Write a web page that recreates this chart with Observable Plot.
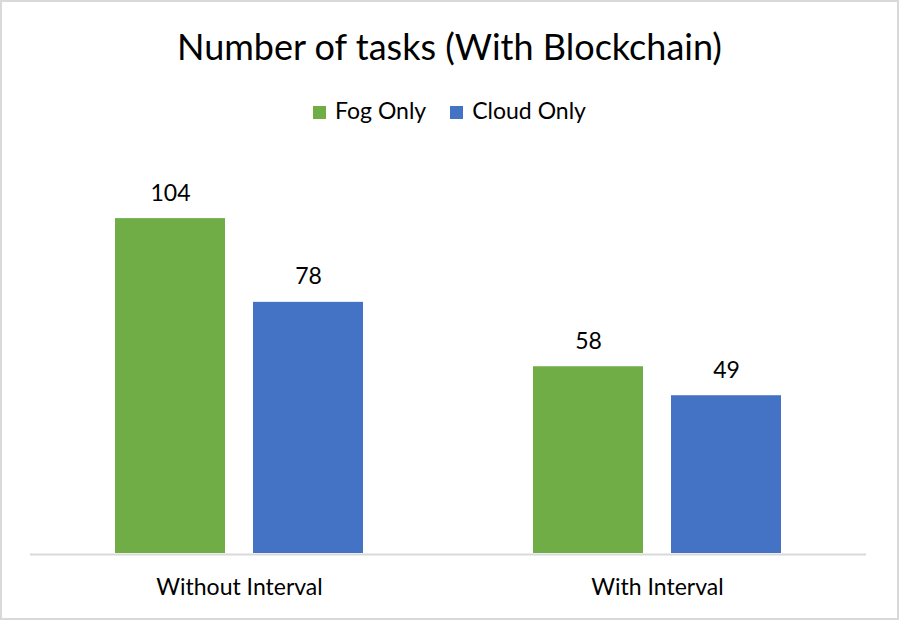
<!DOCTYPE html>
<html>
<head>
<meta charset="utf-8">
<script src="https://cdn.jsdelivr.net/npm/d3@7"></script>
<script src="https://cdn.jsdelivr.net/npm/@observablehq/plot@0.6"></script>
<style>
  html, body { margin: 0; padding: 0; background: #fff; }
  #frame { position: relative; width: 902px; height: 621px; overflow: hidden; font-family: Lato, "Open Sans", sans-serif; color: #000; }
  #border { position: absolute; left: 0; top: 0; width: 899px; height: 620px; box-sizing: border-box; border: 2.5px solid #d9d9d9; }
  #title { position: absolute; left: 0; top: 24.5px; width: 899px; text-align: center; font-size: 36px; line-height: 1.2; white-space: nowrap; }
  #legend { position: absolute; left: 0; top: 97px; width: 899px; display: flex; justify-content: center; font-size: 23px; line-height: 1.2; white-space: nowrap; }
  .item { display: inline-flex; align-items: baseline; margin: 0 12px; }
  .sw { display: inline-block; width: 13px; height: 13px; margin-right: 9px; }
  #chart { position: absolute; left: 0; top: 140px; }
</style>
</head>
<body>
<div id="frame">
  <div id="border"></div>
  <div id="title"></div>
  <div id="legend"></div>
  <div id="chart"></div>
</div>
<script>
const titleText = "Number of tasks (With Blockchain)";
const categories = ["Without Interval", "With Interval"];
const series = ["Fog Only", "Cloud Only"];
const fogValues = [104, 58];
const cloudValues = [78, 49];
const colors = ["#70AD47", "#4472C4"];

const data = categories.flatMap((c, i) => [
  {category: c, series: series[0], value: fogValues[i]},
  {category: c, series: series[1], value: cloudValues[i]}
]);

document.getElementById("title").textContent = titleText;
const legend = document.getElementById("legend");
series.forEach((s, i) => {
  const item = document.createElement("span");
  item.className = "item";
  const sw = document.createElement("span");
  sw.className = "sw";
  sw.style.background = colors[i];
  const lab = document.createElement("span");
  lab.textContent = s;
  item.appendChild(sw);
  item.appendChild(lab);
  legend.appendChild(item);
});

const chart = Plot.plot({
  width: 902,
  height: 480,
  marginLeft: 30,
  marginRight: 36,
  marginTop: 26.6,
  marginBottom: 67,
  style: {fontFamily: "Lato, 'Open Sans', sans-serif", fontSize: "23px", color: "#000", background: "transparent", overflow: "visible"},
  fx: {domain: categories, padding: 0, label: null},
  x: {domain: series, paddingInner: 0.2, paddingOuter: 0.604, axis: null},
  y: {domain: [0, 120], axis: null},
  color: {domain: series, range: colors},
  marks: [
    Plot.barY(data, {fx: "category", x: "series", y: "value", fill: "series"}),
    Plot.ruleY([0], {stroke: "#d9d9d9", strokeWidth: 2, dy: 1}),
    Plot.text(data, {fx: "category", x: "series", y: "value", text: d => String(d.value), lineAnchor: "bottom", dy: -18, fill: "#000", fontSize: 23}),
    Plot.axisFx({anchor: "bottom", tickSize: 0, tickPadding: 25, label: null, fontSize: 23, fill: "#000"})
  ]
});
document.getElementById("chart").appendChild(chart);
</script>
</body>
</html>
